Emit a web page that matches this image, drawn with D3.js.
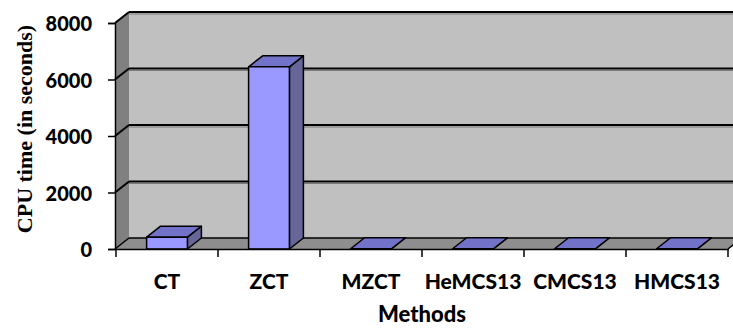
<!DOCTYPE html>
<html>
<head>
<meta charset="utf-8">
<script src="https://cdn.jsdelivr.net/npm/d3@7"></script>
<style>
  html, body { margin: 0; padding: 0; background: #ffffff; }
  svg { display: block; }
</style>
</head>
<body>
<svg id="chart" width="733" height="329"></svg>
<script>
// ---- data ----
const categories = ["CT", "ZCT", "MZCT", "HeMCS13", "CMCS13", "HMCS13"];
const cpuTimes = [420, 6450, 8, 8, 8, 8];
const yTicks = [0, 2000, 4000, 6000, 8000];
const yTitle = "CPU time (in seconds)";
const xTitle = "Methods";

// ---- layout ----
const W = 733, H = 329;
const left = 116, right = 728, front0 = 249, frontTop = 23;
const DX = 14, DY = -11; // 3D depth offset

const svg = d3.select("#chart");

const x = d3.scaleBand().domain(categories).range([left, right]).paddingInner(0.6).paddingOuter(0.3);
const xc = d3.scaleBand().domain(categories).range([left, right]).padding(0);
const y = d3.scaleLinear().domain([0, 8000]).range([front0, frontTop]);

const labelFont = "Lato, 'Open Sans', sans-serif";

// back wall
svg.append("rect")
  .attr("x", left - 1 + DX).attr("y", y(8000) + DY)
  .attr("width", W + 20 - (left - 1 + DX)).attr("height", y(0) - y(8000))
  .attr("fill", "#c0c0c0");
// left wall
svg.append("polygon")
  .attr("points", [[left - 1, y(8000)], [left - 1 + DX, y(8000) + DY], [left - 1 + DX, y(0) + DY], [left - 1, y(0)]].join(" "))
  .attr("fill", "#808080");
// floor
svg.append("polygon")
  .attr("points", [[left - 1, y(0)], [left - 1 + DX, y(0) + DY], [right + DX, y(0) + DY], [right, y(0)]].join(" "))
  .attr("fill", "#8e8e8e");

// gridlines (back wall + left wall)
const grid = svg.append("g");
yTicks.forEach(t => {
  const yb = y(t) + DY;
  if (t > 0) {
    grid.append("line").attr("x1", left - 1 + DX).attr("x2", W + 20).attr("y1", yb + 2).attr("y2", yb + 2)
      .attr("stroke", "#7a7a7a").attr("stroke-width", 1);
    grid.append("line").attr("x1", left - 1).attr("y1", y(t)).attr("x2", left - 1 + DX).attr("y2", yb)
      .attr("stroke", "#000").attr("stroke-width", 2);
  }
  grid.append("line").attr("x1", left - 1 + DX).attr("x2", W + 20).attr("y1", yb).attr("y2", yb)
    .attr("stroke", "#000").attr("stroke-width", t === 0 ? 1.5 : 2);
});
// floor outline
svg.append("line").attr("x1", left - 1).attr("y1", y(0)).attr("x2", left - 1 + DX).attr("y2", y(0) + DY)
  .attr("stroke", "#000").attr("stroke-width", 1.5);
svg.append("line").attr("x1", right).attr("y1", y(0)).attr("x2", right + DX).attr("y2", y(0) + DY)
  .attr("stroke", "#000").attr("stroke-width", 1.5);

// bars
const bars = svg.append("g").selectAll("g").data(categories).join("g");
bars.each(function(c, i) {
  const g = d3.select(this);
  const x0 = x(c), x1 = x(c) + x.bandwidth();
  const yt = y(cpuTimes[i]), yb = y(0);
  g.append("polygon")
    .attr("points", [[x1, yb], [x1 + DX, yb + DY], [x1 + DX, yt + DY], [x1, yt]].join(" "))
    .attr("fill", "#666699").attr("stroke", "#000").attr("stroke-width", 1.5).attr("stroke-linejoin", "round");
  g.append("polygon")
    .attr("points", [[x0, yt], [x0 + DX, yt + DY], [x1 + DX, yt + DY], [x1, yt]].join(" "))
    .attr("fill", "#7272c8").attr("stroke", "#000").attr("stroke-width", 1.5).attr("stroke-linejoin", "round");
  g.append("rect")
    .attr("x", x0).attr("y", yt).attr("width", x1 - x0).attr("height", yb - yt)
    .attr("fill", "#9999ff").attr("stroke", "#000").attr("stroke-width", 1.5).attr("stroke-linejoin", "round");
});

// y axis
const yAxis = svg.append("g").attr("transform", `translate(${left - 1},0)`)
  .call(d3.axisLeft(y).tickValues(yTicks).tickSize(7).tickPadding(16).tickFormat(d3.format("d")));
yAxis.select(".domain").attr("stroke", "#000").attr("stroke-width", 1.5);
yAxis.selectAll(".tick line").attr("stroke", "#000").attr("stroke-width", 1.5);
yAxis.selectAll(".tick text").attr("font-family", labelFont).attr("font-weight", "900")
  .attr("font-size", 20).attr("fill", "#000").attr("dy", "0.38em");

// x axis
const xAxis = svg.append("g").attr("transform", `translate(0,${front0})`)
  .call(d3.axisBottom(xc).tickSize(0).tickPadding(36));
xAxis.select(".domain").attr("stroke", "#000").attr("stroke-width", 1.5);
xAxis.selectAll(".tick text").attr("font-family", labelFont).attr("font-weight", "900")
  .attr("font-size", 21).attr("fill", "#000").attr("dy", "0.2em");
// category boundary ticks
const bounds = categories.map(c => xc(c)).concat([right]);
xAxis.selectAll("line.bt").data(bounds).join("line").attr("class", "bt")
  .attr("x1", d => d).attr("x2", d => d).attr("y1", 0).attr("y2", 8)
  .attr("stroke", "#000").attr("stroke-width", 1.5);

// titles
svg.append("text").attr("x", (left + right) / 2).attr("y", 322)
  .attr("text-anchor", "middle").attr("font-family", labelFont).attr("font-weight", "900")
  .attr("font-size", 22).attr("fill", "#000").text(xTitle);
svg.append("text").attr("transform", `translate(32,129) rotate(-90)`)
  .attr("text-anchor", "middle").attr("font-family", "'Liberation Serif', 'Times New Roman', serif")
  .attr("font-weight", "bold").attr("font-size", 22).attr("fill", "#000").text(yTitle);
</script>
</body>
</html>
